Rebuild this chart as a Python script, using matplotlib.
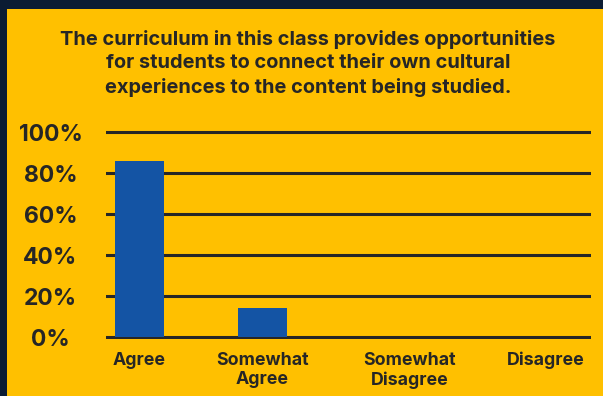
import matplotlib.pyplot as plt
from matplotlib.patches import Rectangle

categories = ["Agree", "Somewhat\nAgree", "Somewhat\nDisagree", "Disagree"]
values = [85.7, 14.3, 0, 0]
xpos = [0, 1, 2.2, 3.3]
yticks = [0, 20, 40, 60, 80, 100]
ytick_labels = ["0%", "20%", "40%", "60%", "80%", "100%"]
title = ("The curriculum in this class provides opportunities\n"
         "for students to connect their own cultural\n"
         "experiences to the content being studied.")

navy = "#0b1c33"
yellow = "#ffc000"
blue = "#1454a4"
dark = "#262626"

plt.rcParams['font.family'] = ['Inter', 'DejaVu Sans']

fig = plt.figure(figsize=(6.03, 3.96), dpi=100)
fig.patch.set_facecolor(navy)
fig.patches.append(Rectangle((7 / 603, 0), 1, 1 - 9 / 396, transform=fig.transFigure,
                             facecolor=yellow, edgecolor="none", zorder=-5))

ax = fig.add_axes([0.1758, 0.1438, 0.804, 0.533])
ax.set_facecolor("none")
ax.bar(xpos, values, width=0.4, color=blue, zorder=3)

ax.set_xlim(-0.272, 3.67)
ax.set_ylim(-1, 102)
ax.set_yticks(yticks)
ax.set_yticklabels(ytick_labels, ha="center", fontsize=16.5, fontweight="bold", color=dark)
ax.set_xticks(xpos)
ax.set_xticklabels(categories, fontsize=12.8, fontweight="bold", color=dark, linespacing=1.2)
ax.tick_params(axis="y", length=0, pad=40)
ax.tick_params(axis="x", length=0, pad=9)
ax.grid(axis="y", color=dark, linewidth=2.2, zorder=1)
ax.set_axisbelow(True)
for s in ax.spines.values():
    s.set_visible(False)

fig.text(0.511, 1 - 30 / 396, title, ha="center", va="top", fontsize=14.4,
         fontweight="bold", color=dark, linespacing=1.38)

fig.savefig("out.png", dpi=100, facecolor=fig.get_facecolor())
